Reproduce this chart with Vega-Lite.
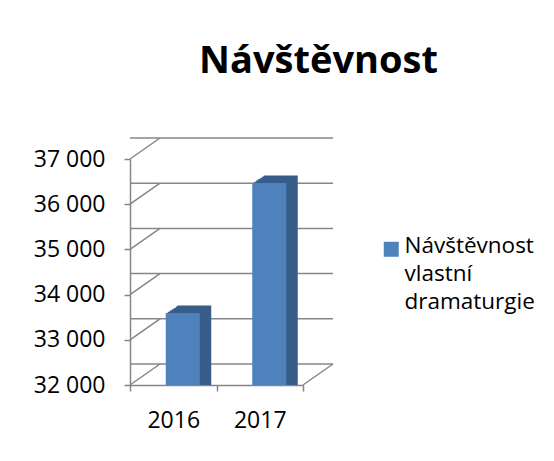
{
  "$schema": "https://vega.github.io/schema/vega-lite/v6.json",
  "width": 173,
  "height": 226,
  "autosize": {"type": "none"},
  "padding": {"left": 130, "top": 159, "right": 251, "bottom": 76},
  "background": "white",
  "title": {
    "text": "Návštěvnost",
    "font": "Open Sans",
    "fontSize": 38,
    "fontWeight": "bold",
    "color": "#000000",
    "anchor": "middle",
    "frame": "group",
    "dx": 102,
    "baseline": "alphabetic",
    "offset": 26
  },
  "datasets": {
    "bars": [
      {"year": "2016", "value": 33480, "series": "Návštěvnost vlastní dramaturgie"},
      {"year": "2017", "value": 36360, "series": "Návštěvnost vlastní dramaturgie"}
    ],
    "grid": [
      {"v": 32000}, {"v": 33000}, {"v": 34000}, {"v": 35000}, {"v": 36000}, {"v": 37000}
    ],
    "floor": [{"v": 32000}]
  },
  "config": {
    "view": {"stroke": null},
    "axis": {
      "labelFont": "Open Sans",
      "labelFontSize": 23,
      "labelColor": "#000000",
      "domainColor": "#868686",
      "domainWidth": 1.5,
      "tickColor": "#868686",
      "tickWidth": 1.5,
      "tickSize": 6,
      "grid": false,
      "title": null
    },
    "legend": {
      "labelFont": "Open Sans",
      "labelFontSize": 22.5,
      "labelColor": "#000000"
    },
    "style": {"guide-label": {"lineHeight": 28}}
  },
  "layer": [
    {
      "data": {"name": "grid"},
      "mark": {"type": "rule", "color": "#868686", "strokeWidth": 1.5, "xOffset": 30, "yOffset": -21},
      "encoding": {
        "y": {"field": "v", "type": "quantitative", "scale": {"domain": [32000, 37000], "nice": false, "zero": false},
          "axis": {"values": [32000, 33000, 34000, 35000, 36000, 37000], "labelExpr": "replace(format(datum.value, ',d'), ',', ' ')", "labelPadding": 19}}
      }
    },
    {
      "data": {"name": "grid"},
      "mark": {"type": "rule", "color": "#868686", "strokeWidth": 1.5, "x2Offset": 30, "y2Offset": -21},
      "encoding": {
        "x": {"datum": "2016", "type": "nominal", "bandPosition": 0,
          "scale": {"paddingInner": 0, "paddingOuter": 0},
          "axis": {"labelAngle": 0, "tickBand": "extent", "bandPosition": 0.5, "labelPadding": 18}},
        "x2": {"datum": "2016", "bandPosition": 0},
        "y": {"field": "v", "type": "quantitative"},
        "y2": {"field": "v"}
      }
    },
    {
      "data": {"name": "floor"},
      "mark": {"type": "rule", "color": "#868686", "strokeWidth": 1.5, "x2Offset": 30, "y2Offset": -21},
      "encoding": {
        "x": {"datum": "2017", "type": "nominal", "bandPosition": 1},
        "x2": {"datum": "2017", "bandPosition": 1},
        "y": {"field": "v", "type": "quantitative"},
        "y2": {"field": "v"}
      }
    },
    {
      "data": {"name": "bars"},
      "mark": {"type": "bar", "width": 34, "color": "#385d8a", "xOffset": 21, "yOffset": -12.5},
      "encoding": {"x": {"field": "year", "type": "nominal"}, "y": {"field": "value", "type": "quantitative"}, "y2": {"datum": 32000}}
    },
    {
      "data": {"name": "bars"},
      "mark": {"type": "bar", "width": 34, "color": "#385d8a", "xOffset": 19.5, "yOffset": -11.5},
      "encoding": {"x": {"field": "year", "type": "nominal"}, "y": {"field": "value", "type": "quantitative"}, "y2": {"datum": 32000}}
    },
    {
      "data": {"name": "bars"},
      "mark": {"type": "bar", "width": 34, "color": "#385d8a", "xOffset": 17.5, "yOffset": -10.2},
      "encoding": {"x": {"field": "year", "type": "nominal"}, "y": {"field": "value", "type": "quantitative"}, "y2": {"datum": 32000}}
    },
    {
      "data": {"name": "bars"},
      "mark": {"type": "bar", "width": 34, "color": "#385d8a", "xOffset": 15.5, "yOffset": -8.9},
      "encoding": {"x": {"field": "year", "type": "nominal"}, "y": {"field": "value", "type": "quantitative"}, "y2": {"datum": 32000}}
    },
    {
      "data": {"name": "bars"},
      "mark": {"type": "bar", "width": 34, "color": "#385d8a", "xOffset": 13.5, "yOffset": -7.6},
      "encoding": {"x": {"field": "year", "type": "nominal"}, "y": {"field": "value", "type": "quantitative"}, "y2": {"datum": 32000}}
    },
    {
      "data": {"name": "bars"},
      "mark": {"type": "bar", "width": 34, "color": "#385d8a", "xOffset": 11.5, "yOffset": -6.3},
      "encoding": {"x": {"field": "year", "type": "nominal"}, "y": {"field": "value", "type": "quantitative"}, "y2": {"datum": 32000}}
    },
    {
      "data": {"name": "bars"},
      "mark": {"type": "bar", "width": 34, "xOffset": 9.5, "yOffset": -5},
      "encoding": {
        "x": {"field": "year", "type": "nominal"},
        "y": {"field": "value", "type": "quantitative"},
        "y2": {"datum": 32000},
        "color": {"field": "series", "type": "nominal", "scale": {"range": ["#4f81bd"]},
          "legend": {"title": null, "orient": "none", "legendX": 250, "legendY": 83, "symbolType": "M-1,-1.53H1V0.47H-1Z", "symbolSize": 225, "symbolStrokeWidth": 0, "symbolOpacity": 1, "labelOffset": 2, "labelLimit": 300,
            "labelBaseline": "alphabetic",
            "labelExpr": "['Návštěvnost', 'vlastní', 'dramaturgie']"}}
      }
    }
  ]
}
